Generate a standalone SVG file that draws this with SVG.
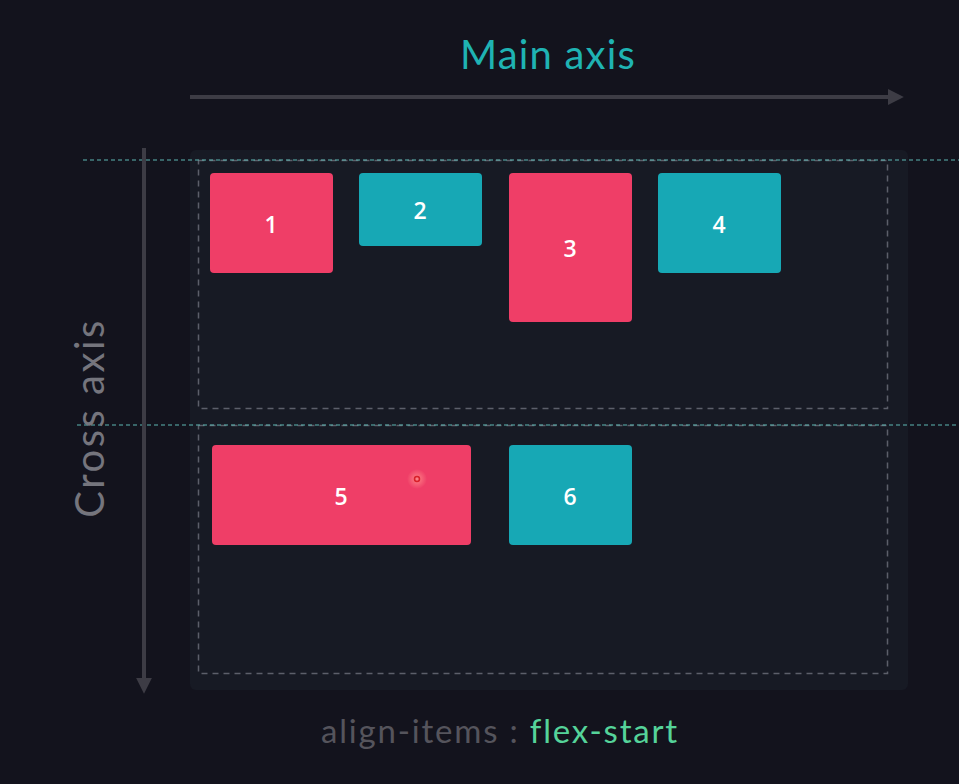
<svg xmlns="http://www.w3.org/2000/svg" width="959" height="784" viewBox="0 0 959 784">
  <style>
    .bg { fill: #13131d; }
    .container { fill: #171a24; }
    .line-box { fill: none; stroke: #5c5f6a; stroke-width: 1.5; stroke-dasharray: 6 5; }
    .guide { stroke: #5fb8b4; stroke-width: 1; stroke-dasharray: 4 3; }
    .axis { stroke: #3d3c45; stroke-width: 4; fill: none; }
    .red { fill: #ef3e67; }
    .teal { fill: #17a8b5; }
    .num { fill: #ffffff; font-family: "Open Sans", "Noto Sans", sans-serif; font-size: 23px; font-weight: 600; text-anchor: middle; dominant-baseline: central; }
    .title { font-family: Lato, "Open Sans", sans-serif; font-size: 40px; }
  </style>
  <defs>
    <marker id="head" viewBox="0 0 10 10" refX="2" refY="5" markerWidth="4" markerHeight="4" orient="auto" markerUnits="strokeWidth">
      <path d="M0,0 L10,5 L0,10 z" fill="#3d3c45"/>
    </marker>
    <radialGradient id="glow">
      <stop offset="0" stop-color="#ff8a8a" stop-opacity="0.9"/>
      <stop offset="1" stop-color="#ff8a8a" stop-opacity="0"/>
    </radialGradient>
  </defs>

  <rect class="bg" x="0" y="0" width="959" height="784"/>
  <rect class="container" x="190" y="150" width="718" height="540" rx="6"/>

  <!-- flex lines -->
  <rect class="line-box" x="198.5" y="160.5" width="689" height="248"/>
  <rect class="line-box" x="198.5" y="425.5" width="689" height="248"/>

  <!-- axes and guides -->
  <g id="connectors">
    <line class="guide" x1="83" y1="160" x2="959" y2="160"/>
    <line class="guide" x1="77" y1="425" x2="959" y2="425"/>
    <line class="axis" x1="190" y1="97" x2="891" y2="97" marker-end="url(#head)"/>
    <line class="axis" x1="144" y1="148" x2="144" y2="681" marker-end="url(#head)"/>
  </g>

  <text class="title" x="548" y="69" fill="#1fb3b3" text-anchor="middle" letter-spacing="1.2">Main axis</text>
  <text class="title" x="0" y="0" fill="#75757d" text-anchor="middle" letter-spacing="2.5" transform="translate(104 418) rotate(-90)">Cross axis</text>

  <g id="item1"><rect class="red" x="210" y="173" width="123" height="100" rx="4"/><text class="num" x="271" y="224">1</text></g>
  <g id="item2"><rect class="teal" x="359" y="173" width="123" height="73" rx="4"/><text class="num" x="420" y="210">2</text></g>
  <g id="item3"><rect class="red" x="509" y="173" width="123" height="149" rx="4"/><text class="num" x="570" y="248">3</text></g>
  <g id="item4"><rect class="teal" x="658" y="173" width="123" height="100" rx="4"/><text class="num" x="719" y="224">4</text></g>
  <g id="item5"><rect class="red" x="212" y="445" width="259" height="100" rx="4"/><text class="num" x="341" y="496">5</text></g>
  <g id="item6"><rect class="teal" x="509" y="445" width="123" height="100" rx="4"/><text class="num" x="570" y="496">6</text></g>

  <!-- pointer -->
  <circle cx="417" cy="479" r="10" fill="url(#glow)"/>
  <circle cx="417" cy="479" r="2.5" fill="none" stroke="#d8202a" stroke-width="1.5"/>

  <text x="500" y="743" font-family="Lato, 'Open Sans', sans-serif" font-size="33" text-anchor="middle" letter-spacing="1.8"><tspan fill="#55545c">align-items</tspan><tspan fill="#55545c"> : </tspan><tspan fill="#55d39a">flex-start</tspan></text>
</svg>
